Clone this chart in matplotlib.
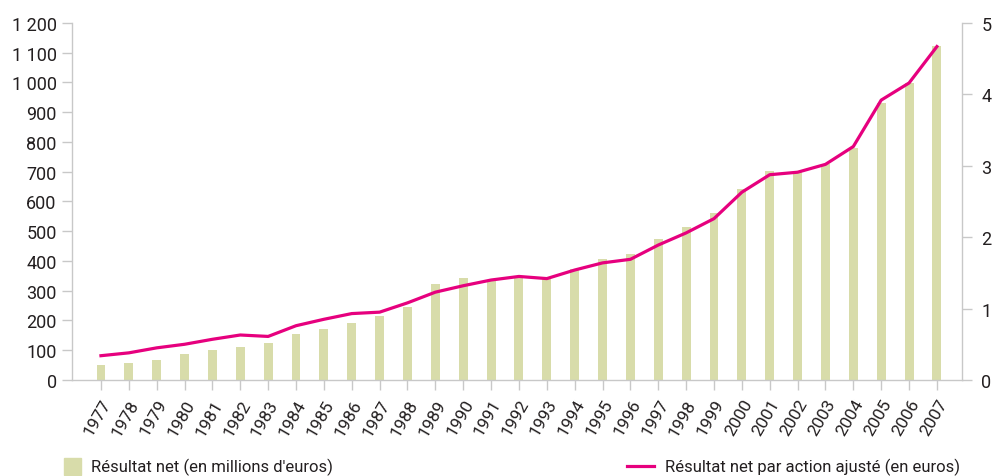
import matplotlib
matplotlib.use("Agg")
import matplotlib.pyplot as plt
from matplotlib.patches import Rectangle
from matplotlib.lines import Line2D

plt.rcParams['font.family'] = ['Roboto', 'DejaVu Sans']

years = list(range(1977, 2008))
net_income = [49, 56, 66, 86, 100, 110, 123, 153, 170, 190, 214, 244, 322, 342, 336,
              347, 341, 372, 406, 422, 473, 513, 560, 642, 702, 704, 726, 780, 931, 998, 1123]
eps = [0.34, 0.38, 0.45, 0.50, 0.57, 0.63, 0.61, 0.76, 0.85, 0.93, 0.95, 1.08, 1.23, 1.32, 1.40,
       1.45, 1.42, 1.54, 1.64, 1.69, 1.89, 2.06, 2.26, 2.63, 2.875, 2.91, 3.02, 3.27, 3.92, 4.16, 4.67]
left_ticks = [0, 100, 200, 300, 400, 500, 600, 700, 800, 900, 1000, 1100, 1200]
left_labels = ["0", "100", "200", "300", "400", "500", "600", "700", "800", "900",
               "1 000", "1 100", "1 200"]
right_ticks = [0, 1, 2, 3, 4, 5]
label_bar = "Résultat net (en millions d'euros)"
label_line = "Résultat net par action ajusté (en euros)"

bar_color = "#d8dcaa"
line_color = "#e6007e"
text_color = "#231f20"
spine_color = "#c8c8c8"

fig = plt.figure(figsize=(9.97, 4.77), dpi=100)
ax = fig.add_axes([0.0722, 0.2013, 0.8927, 0.7484])
x = list(range(len(years)))
ax.bar(x, net_income, width=0.32, color=bar_color, zorder=2)
ax.set_xlim(-1.04, 30.9)
ax.set_ylim(0, 1200)
ax.set_yticks(left_ticks)
ax.set_yticklabels(left_labels)
ax.set_xticks(x)
ax.set_xticklabels([str(y) for y in years], rotation=60, ha='right', rotation_mode='anchor')

ax2 = ax.twinx()
ax2.plot(x, eps, color=line_color, lw=2.3, zorder=3, solid_joinstyle='round')
ax2.set_ylim(0, 5)
ax2.set_yticks(right_ticks)
ax2.set_yticklabels([str(t) for t in right_ticks])

for a in (ax, ax2):
    for s in a.spines.values():
        s.set_visible(False)
ax.spines['left'].set_visible(True)
ax.spines['bottom'].set_visible(True)
ax2.spines['right'].set_visible(True)
for s in (ax.spines['left'], ax.spines['bottom'], ax2.spines['right']):
    s.set_color(spine_color)
    s.set_linewidth(1.0)

ax.tick_params(axis='y', length=7, width=1, color=spine_color, labelsize=13,
               labelcolor=text_color, pad=4)
ax.tick_params(axis='x', length=7, width=1, color=spine_color, labelsize=12.5,
               labelcolor=text_color, pad=5)
ax2.tick_params(axis='y', length=7, width=1, color=spine_color, labelsize=13,
                labelcolor=text_color, pad=7)
for i, t in enumerate(ax.xaxis.get_major_ticks()):
    if (years[i] - 1977) % 5 == 0:
        t.tick1line.set_color("#333333")

# legend
fig.patches.append(Rectangle((64 / 997, 1 - 476 / 477), 17 / 997, 17 / 477,
                             transform=fig.transFigure, color=bar_color, figure=fig))
fig.text(91 / 997, 1 - 467 / 477, label_bar, fontsize=12, color=text_color, va='center', ha='left')
fig.lines.append(Line2D([627 / 997, 654 / 997], [1 - 467 / 477, 1 - 467 / 477],
                        transform=fig.transFigure, color=line_color, lw=2.3, figure=fig))
fig.text(665 / 997, 1 - 467 / 477, label_line, fontsize=12, color=text_color, va='center', ha='left')

fig.savefig("out.png", dpi=100)
